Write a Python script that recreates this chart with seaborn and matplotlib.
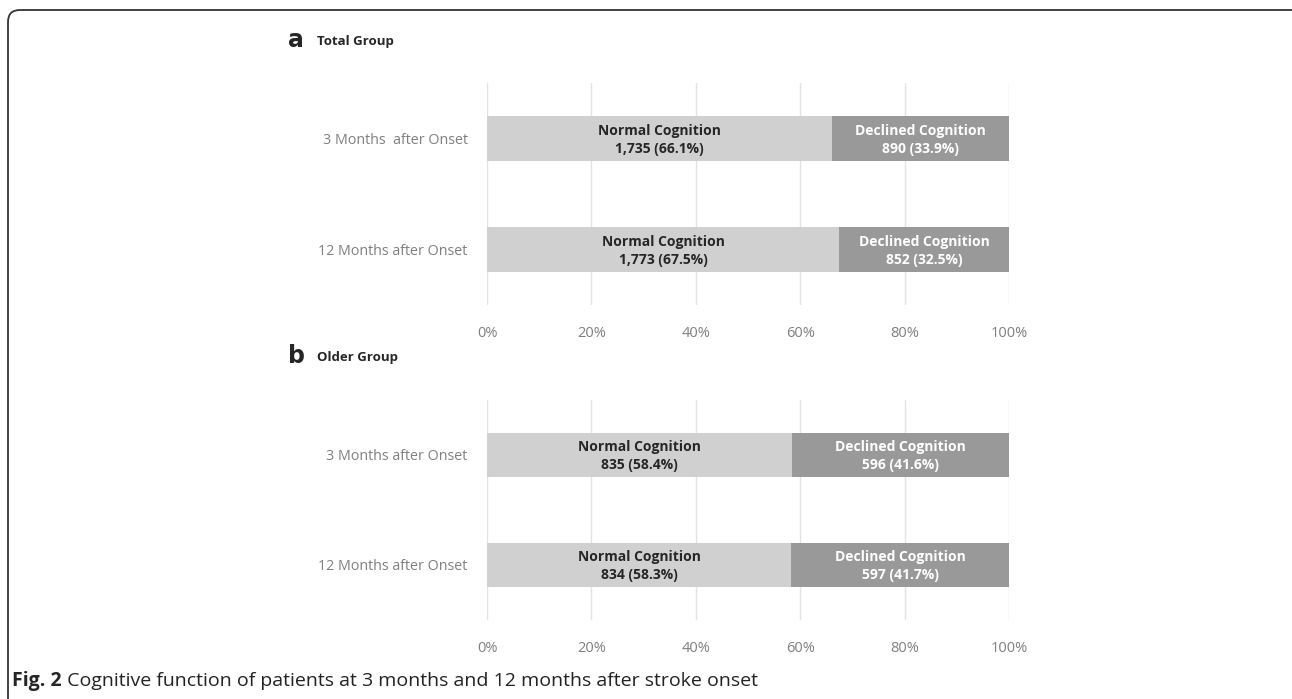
import numpy as np
import pandas as pd
import matplotlib
matplotlib.use("Agg")
import matplotlib.pyplot as plt
import seaborn as sns
from matplotlib.patches import FancyBboxPatch

# data
rows_total = ["3 Months  after Onset", "12 Months after Onset"]
rows_older = ["3 Months after Onset", "12 Months after Onset"]
normal_n_total = [1735, 1773]
normal_pct_total = [66.1, 67.5]
declined_n_total = [890, 852]
declined_pct_total = [33.9, 32.5]
normal_n_older = [835, 834]
normal_pct_older = [58.4, 58.3]
declined_n_older = [596, 597]
declined_pct_older = [41.6, 41.7]
xticks = [0, 20, 40, 60, 80, 100]

sns.set_theme(style="white")
plt.rcParams["font.family"] = ["Open Sans", "DejaVu Sans"]

light = "#d0d0d0"
dark = "#999999"
W, H = 1292, 699
fig = plt.figure(figsize=(W / 100, H / 100), dpi=100)


def panel(top_px, bot_px, rows, n_norm, p_norm, n_dec, p_dec):
    ax = fig.add_axes([487 / W, 1 - bot_px / H, 522 / W, (bot_px - top_px) / H])
    df = pd.DataFrame({"row": rows, "normal": p_norm,
                       "total": np.array(p_norm) + np.array(p_dec)})
    sns.barplot(data=df, x="total", y="row", color=dark, width=0.4,
                saturation=1, orient="h", ax=ax, zorder=2, linewidth=0)
    sns.barplot(data=df, x="normal", y="row", color=light, width=0.4,
                saturation=1, orient="h", ax=ax, zorder=2, linewidth=0)
    ax.set_xlim(0, 100)
    ax.set_ylim(1.5, -0.5)
    ax.set_xticks(xticks)
    ax.set_xticklabels([f"{t}%" for t in xticks])
    ax.xaxis.grid(True, color="#e3e3e3", lw=1)
    ax.set_axisbelow(True)
    for s in ax.spines.values():
        s.set_visible(False)
    ax.set_xlabel("")
    ax.set_ylabel("")
    ax.tick_params(axis="x", colors="#7f7f7f", labelsize=10.5, pad=15, length=0)
    ax.tick_params(axis="y", colors="#7f7f7f", labelsize=10.3, pad=14, length=0)
    for i in range(len(rows)):
        ax.text(p_norm[i] / 2, i + 0.01, f"Normal Cognition\n{n_norm[i]:,} ({p_norm[i]}%)",
                ha="center", va="center", fontsize=10, fontweight="bold",
                color="#262626", linespacing=1.35, zorder=3)
        ax.text(p_norm[i] + p_dec[i] / 2, i + 0.01, f"Declined Cognition\n{n_dec[i]:,} ({p_dec[i]}%)",
                ha="center", va="center", fontsize=10, fontweight="bold",
                color="white", linespacing=1.35, zorder=3)
    return ax


panel(83, 305, rows_total, normal_n_total, normal_pct_total, declined_n_total, declined_pct_total)
panel(400, 620, rows_older, normal_n_older, normal_pct_older, declined_n_older, declined_pct_older)

# panel letters and titles
fig.text(288 / W, 1 - 40 / H, "a", fontsize=17, fontweight="bold", va="center",
         family=["DejaVu Sans"])
fig.text(317 / W, 1 - 42 / H, "Total Group", fontsize=9.5, fontweight="bold", va="center")
fig.text(288 / W, 1 - 356 / H, "b", fontsize=17, fontweight="bold", va="center",
         family=["DejaVu Sans"])
fig.text(317 / W, 1 - 358 / H, "Older Group", fontsize=9.5, fontweight="bold", va="center")

# caption
cap = fig.text(12 / W, 1 - 681 / H, "Fig. 2", fontsize=14, fontweight="bold",
               va="center")
ax_cap = fig.add_axes([0, 0, 1, 1], facecolor="none")
ax_cap.set_xlim(0, W)
ax_cap.set_ylim(H, 0)
ax_cap.axis("off")
ax_cap.annotate(" Cognitive function of patients at 3 months and 12 months after stroke onset",
                xy=(1, 0.5), xycoords=cap, va="center", fontsize=14, color="#222222")

# frame around the figure
ax_cap.add_patch(FancyBboxPatch((8, 10), 1296, 720, boxstyle="round,pad=0,rounding_size=12",
                                fill=False, edgecolor="#333333", lw=1.3, clip_on=False))

fig.savefig("out.png", dpi=100)
